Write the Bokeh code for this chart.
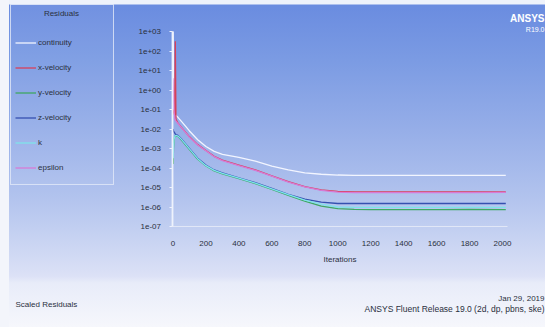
from bokeh.plotting import figure
from bokeh.models import (Range1d, FixedTicker, CustomJSTickFormatter, Legend, LegendItem, Label)
from bokeh.embed import file_html
from bokeh.resources import INLINE

iterations = [1, 3, 6, 10, 14, 18, 30, 50, 100, 150, 200, 250, 300, 400, 500, 600, 700, 800,
              900, 1000, 1100, 1200, 1400, 1600, 1800, 2020]
continuity = [3.0, 1.0, -0.5, -1.1, -1.25, -1.3, -1.4, -1.6, -2.1, -2.55, -2.9, -3.15, -3.3,
              -3.45, -3.65, -3.9, -4.1, -4.25, -4.32, -4.36, -4.38, -4.38, -4.38, -4.38, -4.38, -4.38]
x_velocity = [-1.0, -1.1, -1.2, -1.3, 2.5, -1.5, -1.7, -1.9, -2.4, -2.8, -3.1, -3.4, -3.6,
              -3.85, -4.1, -4.4, -4.7, -4.95, -5.12, -5.2, -5.22, -5.22, -5.22, -5.22, -5.22, -5.22]
y_velocity = [-3.8, -3.0, -2.6, -2.4, -2.36, -2.35, -2.38, -2.55, -3.05, -3.55, -3.9, -4.15,
              -4.3, -4.55, -4.8, -5.1, -5.4, -5.7, -5.95, -6.08, -6.12, -6.13, -6.13, -6.13,
              -6.12, -6.13]
z_velocity = [-2.0, -2.1, -2.15, -2.2, -2.25, -2.28, -2.33, -2.5, -3.0, -3.5, -3.85, -4.1,
              -4.25, -4.5, -4.75, -5.05, -5.35, -5.6, -5.75, -5.82, -5.82, -5.82, -5.82, -5.82,
              -5.82, -5.82]
k_turb = [-3.5, -2.9, -2.55, -2.4, -2.35, -2.33, -2.36, -2.52, -3.02, -3.52, -3.88, -4.12,
          -4.28, -4.52, -4.78, -5.07, -5.37, -5.65, -5.85, -6.0, -6.02, -6.02, -6.02, -6.02,
          -6.02, -6.02]
epsilon = [0.6, -0.3, -1.0, -1.45, -1.55, -1.6, -1.72, -1.92, -2.42, -2.82, -3.12, -3.42,
           -3.62, -3.88, -4.12, -4.42, -4.72, -4.97, -5.15, -5.24, -5.26, -5.26, -5.26, -5.26,
           -5.26, -5.25]

series_names = ["continuity", "x-velocity", "y-velocity", "z-velocity", "k", "epsilon"]
series_values = [continuity, x_velocity, y_velocity, z_velocity, k_turb, epsilon]
series_colors = ["#f2f5ff", "#d8405a", "#3fa862", "#3550b0", "#7fe3ea", "#d77ad6"]

y_ticks = [10.0 ** e for e in range(-7, 4)]
x_ticks = list(range(0, 2001, 200))

W, H = 545, 327
p = figure(width=W, height=H, output_backend="svg", toolbar_location=None,
           y_axis_type="log",
           x_range=Range1d(-1047, 2261), y_range=Range1d(10 ** -12.179, 10 ** 4.5897),
           min_border_left=0, min_border_right=0, min_border_top=0, min_border_bottom=0)
p.title.visible = False
p.styles = {"background": "linear-gradient(to right, #f3f5fb 0px, #f3f5fb 9px, transparent 9px), "
                          "linear-gradient(to bottom, #eef2fb 0px, #eef2fb 4px, #6a8ce0 5px, "
                          "#7b9be3 60px, #96aee8 130px, #b3c4ee 200px, #cdd7f3 250px, "
                          "#dce1f6 276px, #e8ecf9 283px, #f6f7fc 327px)"}
p.background_fill_alpha = 0
p.border_fill_alpha = 0
p.outline_line_color = None
p.grid.visible = False

font = "Liberation Sans"
txt = "#2a3040"

yax = p.yaxis[0]
yax.fixed_location = 0
yax.bounds = (1e-7, 1e3)
yax.ticker = FixedTicker(ticks=y_ticks, minor_ticks=[])
yax.formatter = CustomJSTickFormatter(code="""
const s = tick.toExponential(0);
return s.replace(/e([+-])(\\d)$/, 'e$10$2');
""")
yax.axis_line_color = "#eef2fc"
yax.axis_line_width = 1.8
yax.major_tick_line_color = "#eef2fc"
yax.major_tick_in = 0
yax.major_tick_out = 3
yax.minor_tick_line_color = None
yax.major_label_text_font = font
yax.major_label_text_font_size = "8px"
yax.major_label_text_color = txt
yax.major_label_standoff = 9

xax = p.xaxis[0]
xax.fixed_location = 1e-7
xax.bounds = (0, 2030)
xax.ticker = FixedTicker(ticks=x_ticks, minor_ticks=[])
xax.axis_line_color = "#e8eef9"
xax.axis_line_alpha = 0.8
xax.axis_line_width = 1
xax.major_tick_line_color = None
xax.minor_tick_line_color = None
xax.major_label_text_font = font
xax.major_label_text_font_size = "8px"
xax.major_label_text_color = txt
xax.major_label_standoff = 8
xax.axis_label = "Iterations"
xax.axis_label_text_font = font
xax.axis_label_text_font_size = "8px"
xax.axis_label_text_font_style = "normal"
xax.axis_label_text_color = txt
xax.axis_label_standoff = 6

items = []
for name, vals, col in zip(series_names, series_values, series_colors):
    ys = [10.0 ** v for v in vals]
    r = p.line(iterations, ys, line_color=col, line_width=1.3)
    items.append(LegendItem(label=name, renderers=[r]))

legend = Legend(items=items, location=(10, 142), margin=0, padding=4, spacing=0,
                label_height=25, glyph_height=25, glyph_width=21, label_standoff=2,
                label_width=71, title="\u00a0" * 13 + "Residuals", title_standoff=12,
                label_text_font=font, label_text_font_size="8px", label_text_color=txt,
                title_text_font=font, title_text_font_size="8px", title_text_color=txt,
                title_text_font_style="normal",
                background_fill_color="#ffffff", background_fill_alpha=0.05,
                border_line_color="#e2e8f8", border_line_alpha=0.8, border_line_width=1)
p.add_layout(legend, "center")

annots = [
    ("ANSYS", W - 1, H - 18, "10px", "bold", "white", "right"),
    ("R19.0", W - 1, H - 29, "7px", "normal", "white", "right"),
    ("Scaled Residuals", 15, H - 304, "8px", "normal", txt, "left"),
    ("Jan 29, 2019", W - 1, H - 298, "8px", "normal", txt, "right"),
    ("ANSYS Fluent Release 19.0 (2d, dp, pbns, ske)", W - 1, H - 308, "8.5px", "normal", txt, "right"),
]
for t, sx, sy, fs, st, col, al in annots:
    p.add_layout(Label(x=sx, y=sy, x_units="screen", y_units="screen", text=t,
                       text_font=font, text_font_size=fs, text_font_style=st,
                       text_color=col, text_baseline="middle", text_align=al))

open("out.html", "w").write(file_html(p, INLINE))
